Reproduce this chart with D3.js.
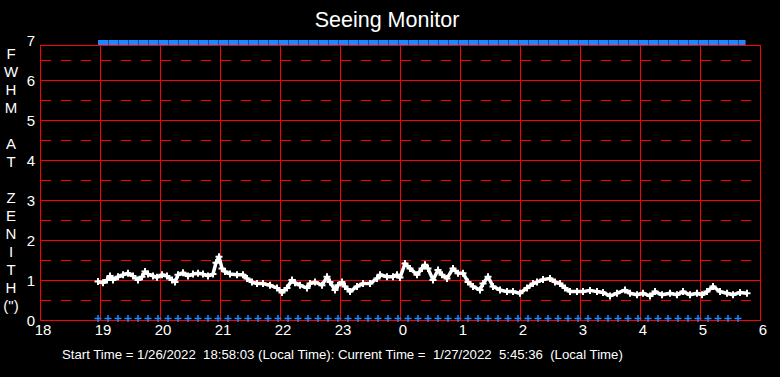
<!DOCTYPE html>
<html>
<head>
<meta charset="utf-8">
<script src="https://cdn.jsdelivr.net/npm/d3@7"></script>
<style>
html, body { margin: 0; padding: 0; background: #000; }
svg { display: block; font-family: "Liberation Sans", Arial, sans-serif; }
</style>
</head>
<body>
<div id="chart"></div>
<script>
// times are minutes after 18:00 local time
const fwhmMinutes = [58, 63, 67, 70, 73, 78, 83, 88, 93, 98, 102, 105, 108, 113, 117, 122, 127, 132, 135, 138,
    143, 148, 153, 158, 163, 168, 173, 176, 179, 182, 185, 190, 197, 203, 207, 212, 217, 223, 230, 237,
    242, 247, 252, 255, 260, 267, 270, 275, 282, 287, 290, 295, 298, 302, 305, 310, 317, 323, 330, 337,
    340, 347, 353, 357, 360, 365, 370, 377, 382, 385, 388, 393, 398, 402, 407, 413, 418, 423, 428, 433,
    440, 443, 448, 453, 460, 467, 473, 480, 487, 493, 497, 503, 510, 515, 520, 525, 530, 537, 543, 550,
    557, 563, 570, 577, 585, 590, 597, 603, 610, 615, 622, 630, 637, 643, 650, 657, 662, 667, 673, 680,
    687, 693, 700, 707];
const fwhmValues = [0.96, 0.93, 1.00, 1.10, 1.00, 1.08, 1.13, 1.17, 1.10, 1.00, 1.08, 1.21, 1.15, 1.10, 1.07, 1.13, 1.10, 1.00, 0.95, 1.13,
    1.18, 1.10, 1.15, 1.17, 1.15, 1.10, 1.15, 1.43, 1.58, 1.29, 1.21, 1.15, 1.13, 1.13, 1.04, 0.95, 0.91, 0.91, 0.87, 0.80,
    0.69, 0.80, 1.00, 0.93, 0.87, 0.80, 0.91, 0.95, 0.87, 1.08, 0.95, 0.75, 0.87, 0.95, 0.84, 0.71, 0.84, 0.91, 0.91, 1.04,
    1.13, 1.08, 1.08, 1.13, 1.06, 1.41, 1.29, 1.13, 1.29, 1.38, 1.29, 1.00, 1.25, 1.13, 1.04, 1.29, 1.17, 1.17, 0.95, 0.84,
    0.75, 0.91, 1.08, 0.84, 0.75, 0.71, 0.71, 0.67, 0.80, 0.91, 0.95, 1.01, 1.04, 0.95, 0.91, 0.80, 0.71, 0.71, 0.71, 0.74,
    0.71, 0.69, 0.60, 0.67, 0.75, 0.67, 0.63, 0.67, 0.60, 0.71, 0.63, 0.67, 0.63, 0.71, 0.63, 0.67, 0.63, 0.71, 0.84, 0.71,
    0.67, 0.63, 0.69, 0.67];

// blue status markers
const markMinutes = [58, 68, 78, 88, 98, 108, 118, 128, 138, 148, 158, 168, 178, 188, 198, 208, 218, 228, 238, 248,
    258, 268, 278, 288, 298, 308, 318, 328, 338, 348, 358, 368, 378, 388, 398, 408, 418, 428, 438, 448,
    458, 468, 478, 488, 498, 508, 518, 528, 538, 548, 558, 568, 578, 588, 598, 608, 618, 628, 638, 648,
    658, 668, 678, 688, 698, 705.6];
const topLevel = 6.94;
const baseLevel = 0.04;

const hourTicks = [0, 60, 120, 180, 240, 300, 360, 420, 480, 540, 600, 660, 720];
const yTicks = [0, 1, 2, 3, 4, 5, 6, 7];
const halfTicks = [0.5, 1.5, 2.5, 3.5, 4.5, 5.5, 6.5];
const axisLetters = ['F', 'W', 'H', 'M', '', 'A', 'T', '', 'Z', 'E', 'N', 'I', 'T', 'H', '(")'];
const titleText = 'Seeing Monitor';
const footerText = 'Start Time = 1/26/2022  18:58:03 (Local Time): Current Time =  1/27/2022  5:45:36  (Local Time)';

const width = 780;
const height = 377;
const frameTop = 45;

const svg = d3.select('#chart')
    .append('svg')
    .attr('width', width)
    .attr('height', height);

svg.append('rect')
    .attr('width', width)
    .attr('height', height)
    .attr('fill', '#000');

const x = d3.scaleLinear().domain([0, 720]).range([40, 760]);
const y = d3.scaleLinear().domain([0, 7]).range([320, 40]);

const red = '#ff0000';
const blue = '#1e88ff';

// grid
const grid = svg.append('g').attr('class', 'grid');

grid.selectAll('.hline')
    .data(yTicks.filter(d => d > 0 && d < 7))
    .enter()
    .append('line')
    .attr('x1', x(0)).attr('x2', x(720))
    .attr('y1', d => y(d) + 0.5).attr('y2', d => y(d) + 0.5)
    .attr('stroke', red);

grid.selectAll('.dline')
    .data(halfTicks)
    .enter()
    .append('line')
    .attr('x1', x(0) + 1).attr('x2', x(720))
    .attr('y1', d => Math.round(y(d)) + 0.5).attr('y2', d => Math.round(y(d)) + 0.5)
    .attr('stroke', red)
    .attr('stroke-dasharray', '10,10');

grid.selectAll('.vline')
    .data(hourTicks.slice(1, -1))
    .enter()
    .append('line')
    .attr('x1', d => x(d) + 0.5).attr('x2', d => x(d) + 0.5)
    .attr('y1', frameTop).attr('y2', y(0))
    .attr('stroke', red);

grid.append('rect')
    .attr('x', x(0) + 0.5)
    .attr('y', frameTop + 0.5)
    .attr('width', x(720) - x(0))
    .attr('height', y(0) - frameTop)
    .attr('fill', 'none')
    .attr('stroke', red);

// top blue status band
const topLine = d3.line()
    .x(d => x(d))
    .y(() => y(topLevel));

svg.append('path')
    .datum(markMinutes)
    .attr('d', topLine)
    .attr('fill', 'none')
    .attr('stroke', blue)
    .attr('stroke-width', 5);

svg.selectAll('.topsep')
    .data(markMinutes.slice(1, -1))
    .enter()
    .append('line')
    .attr('x1', d => x(d) + 0.5).attr('x2', d => x(d) + 0.5)
    .attr('y1', y(topLevel) - 2.5).attr('y2', y(topLevel) + 2.5)
    .attr('stroke', '#0c4c9c')
    .attr('stroke-width', 1);

// bottom blue markers
svg.selectAll('.basemark')
    .data(markMinutes.slice(0, -1))
    .enter()
    .append('path')
    .attr('d', d => {
        const cx = x(d), cy = y(baseLevel);
        return `M${cx - 3.5},${cy}h7M${cx},${cy - 3.5}v7`;
    })
    .attr('stroke', blue)
    .attr('stroke-width', 1.5);

// FWHM series
const fwhm = fwhmMinutes.map((m, i) => ({m: m, v: fwhmValues[i]}));

const line = d3.line()
    .x(d => x(d.m))
    .y(d => y(d.v));

svg.append('path')
    .datum(fwhm)
    .attr('d', line)
    .attr('fill', 'none')
    .attr('stroke', '#fff')
    .attr('stroke-width', 3.5)
    .attr('stroke-linejoin', 'round');

svg.selectAll('.pt')
    .data(fwhm)
    .enter()
    .append('path')
    .attr('d', d => {
        const cx = x(d.m), cy = y(d.v);
        return `M${cx - 3.5},${cy}h7M${cx},${cy - 3.5}v7`;
    })
    .attr('stroke', '#fff')
    .attr('stroke-width', 2);

// axis labels
svg.selectAll('.ylab')
    .data(yTicks)
    .enter()
    .append('text')
    .attr('x', 35)
    .attr('y', d => y(d) + 5.5)
    .attr('text-anchor', 'end')
    .attr('fill', '#fff')
    .attr('font-size', 15)
    .text(d => d);

svg.selectAll('.xlab')
    .data(hourTicks)
    .enter()
    .append('text')
    .attr('x', d => x(d) + 3)
    .attr('y', 335)
    .attr('text-anchor', 'middle')
    .attr('fill', '#fff')
    .attr('font-size', 15)
    .text(d => (18 + d / 60) % 24);

svg.selectAll('.ytitle')
    .data(axisLetters)
    .enter()
    .append('text')
    .attr('x', 11)
    .attr('y', (d, i) => 58.5 + i * 18)
    .attr('text-anchor', 'middle')
    .attr('fill', '#fff')
    .attr('font-size', 15)
    .text(d => d);

svg.append('text')
    .attr('x', 387)
    .attr('y', 27)
    .attr('text-anchor', 'middle')
    .attr('fill', '#fff')
    .attr('font-size', 21.5)
    .text(titleText);

svg.append('text')
    .attr('x', 62)
    .attr('y', 359)
    .attr('fill', '#fff')
    .attr('font-size', 13.2)
    .style('white-space', 'pre')
    .text(footerText);
</script>
</body>
</html>
